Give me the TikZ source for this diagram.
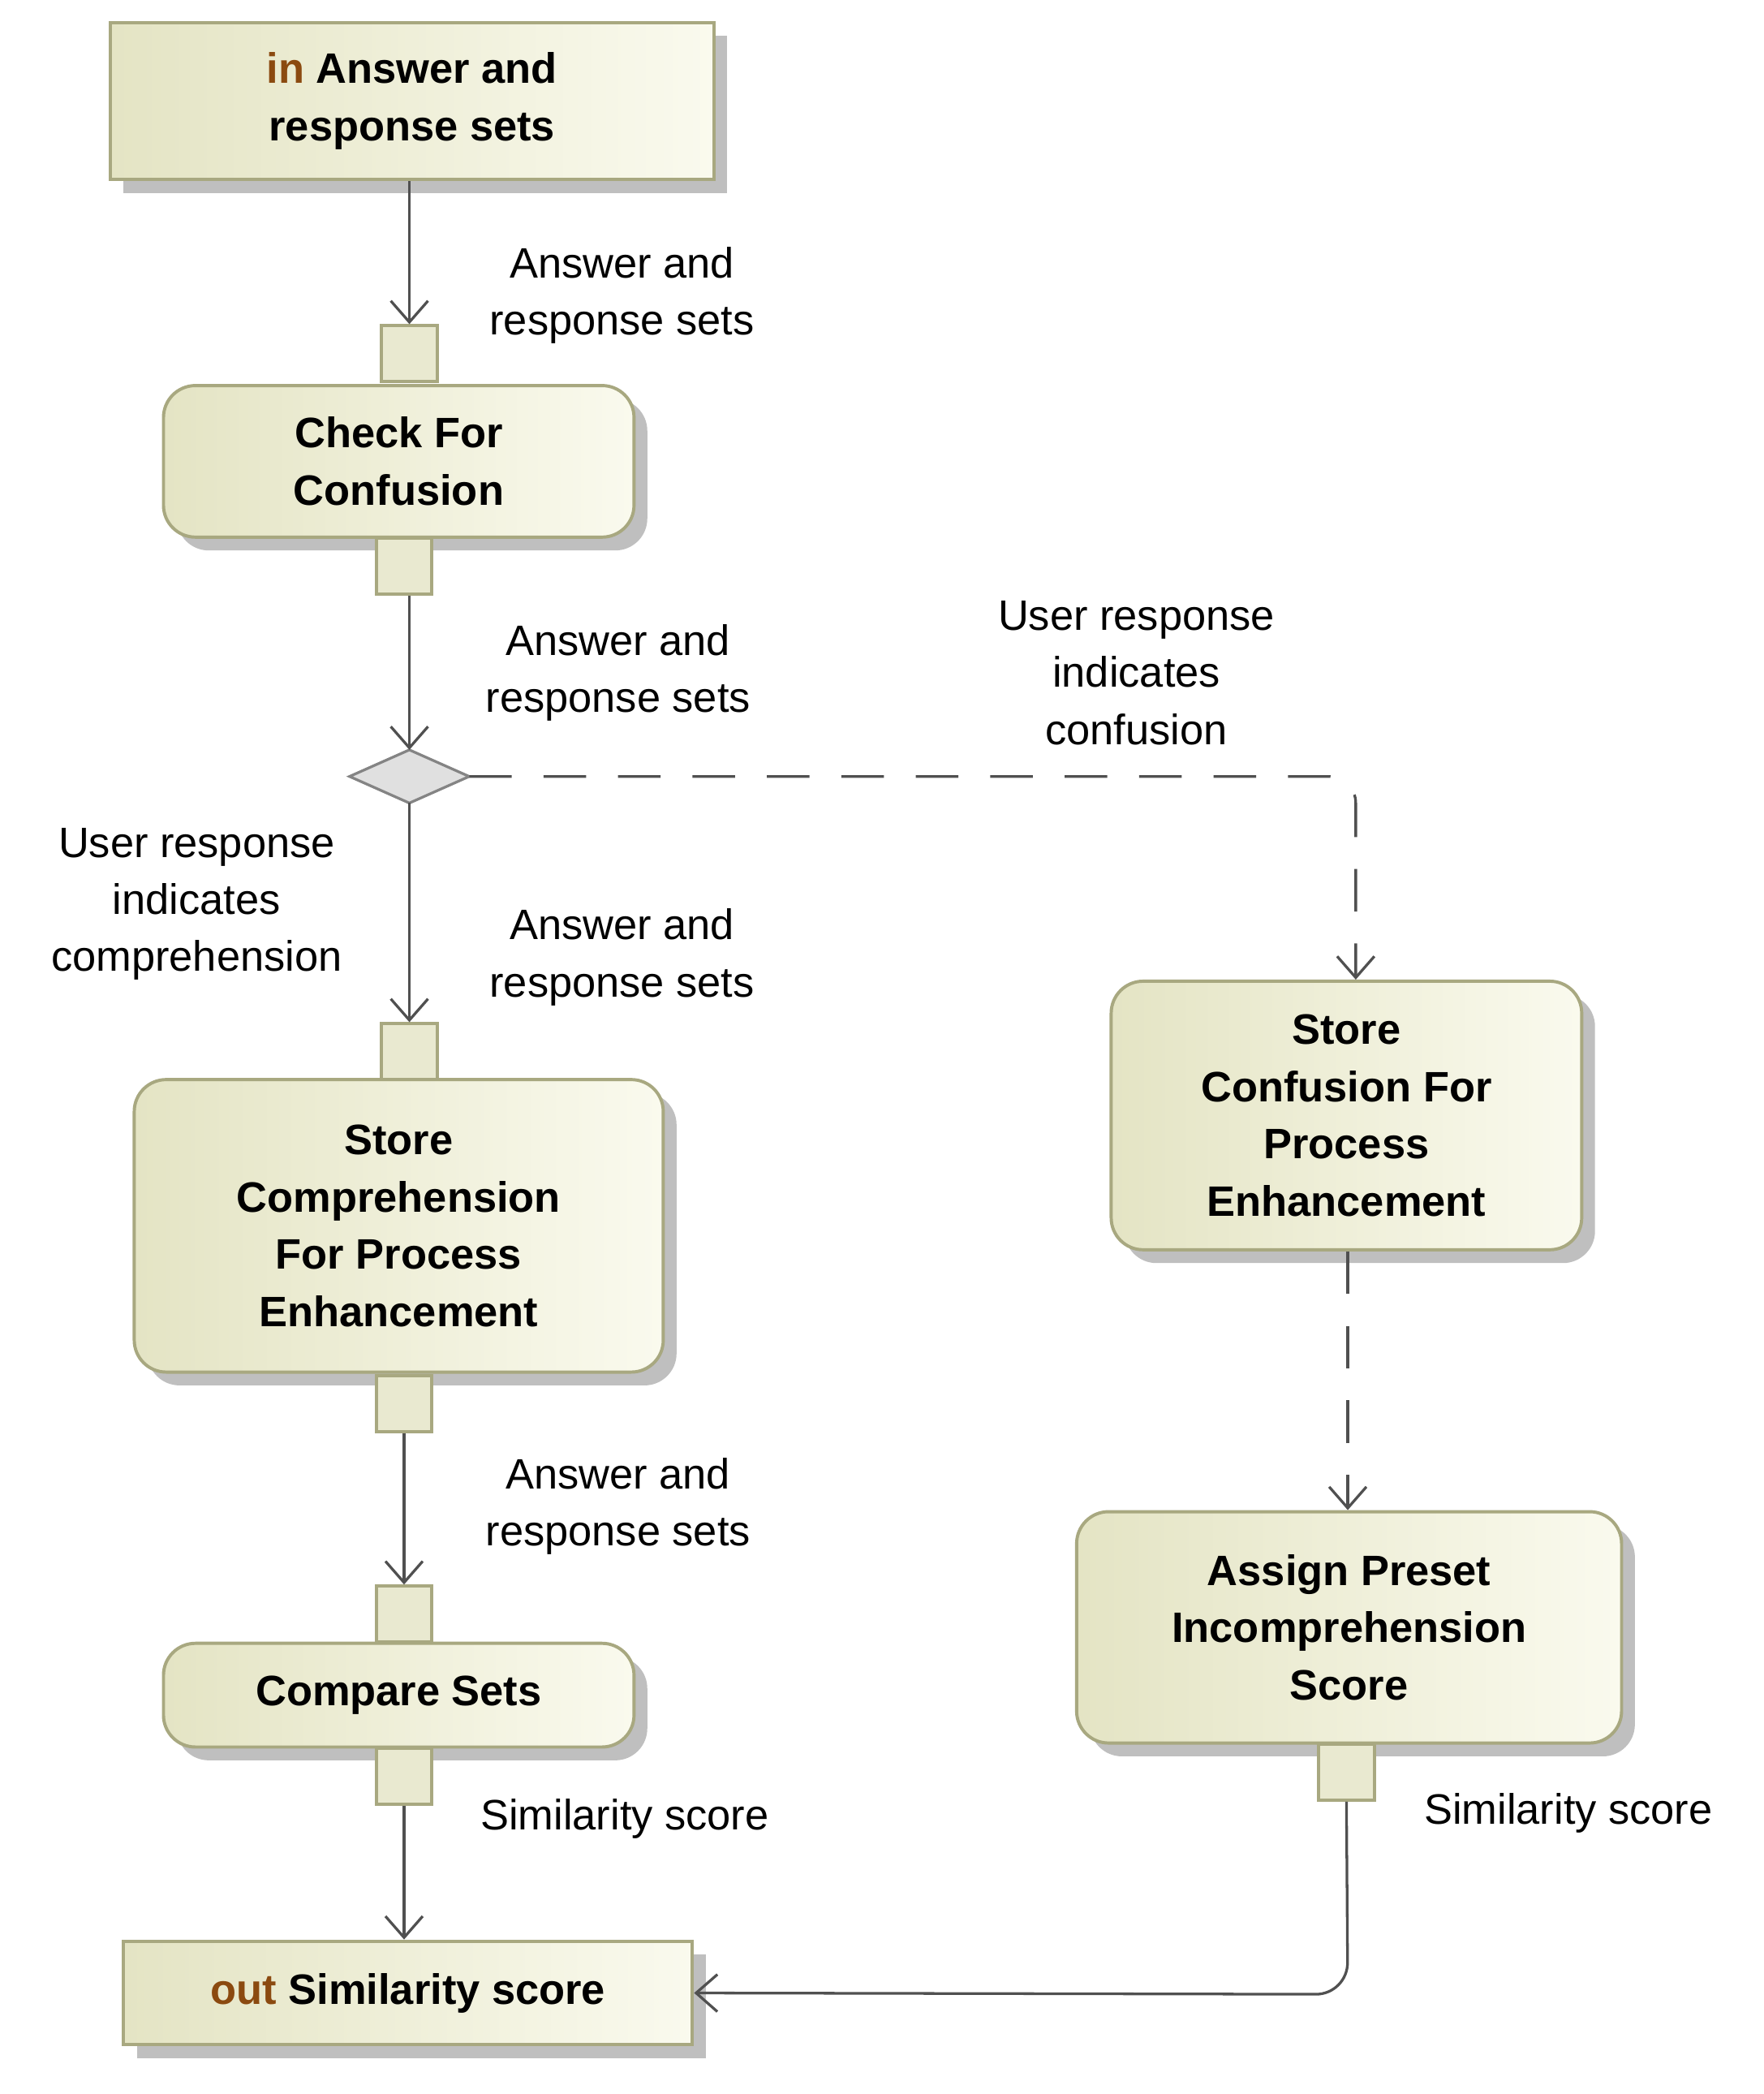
\documentclass[tikz,border=0pt]{standalone}
\usepackage{fontspec}
\setmainfont{Liberation Sans}
\usetikzlibrary{arrows.meta,shadows}
\definecolor{bd}{HTML}{A8A880}
\definecolor{fillA}{HTML}{E4E4C4}
\definecolor{fillB}{HTML}{FAFAEE}
\definecolor{kw}{HTML}{8B4A10}
\definecolor{ln}{HTML}{505050}
\begin{document}
\begin{tikzpicture}[x=0.5pt,y=-0.5pt,
  shad/.style={drop shadow={shadow xshift=5pt,shadow yshift=-5pt,fill=black!25,opacity=1}},
  box/.style={draw=bd,line width=1.2pt,left color=fillA,right color=fillB,shad,inner sep=0pt,
    font=\fontsize{16}{21.5}\selectfont\bfseries,align=center},
  act/.style={box,rounded corners=12pt},
  pin/.style={draw=bd,line width=1.2pt,fill=fillA!80!white,minimum width=21pt,minimum height=21pt,inner sep=0pt},
  lab/.style={font=\fontsize{16}{21.5}\selectfont,align=center},
  arr/.style={draw=ln,line width=1pt,-{Straight Barb[length=8pt,width=14pt]}},
  darr/.style={arr,dash pattern=on 16pt off 12pt}]
\useasboundingbox (0,0) rectangle (1327,1575);
\node[box,minimum width=227pt,minimum height=59pt] (in) at (310,76) {\textcolor{kw}{in} Answer and\\response sets};
\node[act,minimum width=177pt,minimum height=57pt] (chk) at (300,347) {Check For\\Confusion};
\node[pin] (p1) at (308,266) {};
\node[pin] (p2) at (304,426) {};
\node[draw=ln!70,fill=black!12,line width=1pt,shape=rectangle,minimum size=0pt,inner sep=0pt] at (0,0) {};
\path[draw=ln!70,fill=black!12,line width=1pt] (263,584) -- (308,564) -- (353,584) -- (308,604) -- cycle;
\coordinate (dt) at (308,564); \coordinate (db) at (308,604); \coordinate (dr) at (353,584);
\node[pin] (p3) at (308,791) {};
\node[act,minimum width=199pt,minimum height=110pt] (scp) at (300,922) {Store\\Comprehension\\For Process\\Enhancement};
\node[pin] (p4) at (304,1056) {};
\node[pin] (p5) at (304,1214) {};
\node[act,minimum width=177pt,minimum height=39pt] (cmp) at (300,1275) {Compare Sets};
\node[pin] (p6) at (304,1336) {};
\node[box,minimum width=214pt,minimum height=39pt] (out) at (307,1499) {\textcolor{kw}{out} Similarity score};
\node[act,minimum width=177pt,minimum height=101pt] (scf) at (1013,839) {Store\\Confusion For\\Process\\Enhancement};
\node[act,minimum width=205pt,minimum height=87pt] (asg) at (1015,1224) {Assign Preset\\Incomprehension\\Score};
\node[pin] (p7) at (1013,1333) {};
\draw[arr] (in.south -| p1) -- (p1.north);
\draw[arr] (p2.south -| dt) -- (dt);
\draw[arr] (db) -- (p3.north);
\draw[arr] (p4) -- (p5);
\draw[arr] (p6) -- (out.north -| p6);
\draw[darr,rounded corners=10pt] (dr) -- (1020,584) -- (scf.north -| 1020,0);
\draw[darr] (scf.south -| 1014,0) -- (asg.north -| 1014,0);
\draw[arr,rounded corners=12pt] (p7.south) -- (1014,1500) -- (out.east);
\node[lab] at (468,222) {Answer and\\response sets};
\node[lab] at (465,506) {Answer and\\response sets};
\node[lab] at (468,720) {Answer and\\response sets};
\node[lab] at (465,1133) {Answer and\\response sets};
\node[lab] at (855,506) {User response\\indicates\\confusion};
\node[lab] at (148,680) {User response\\indicates\\comprehension};
\node[lab] at (470,1368) {Similarity score};
\node[lab] at (1180,1364) {Similarity score};
\end{tikzpicture}
\end{document}
